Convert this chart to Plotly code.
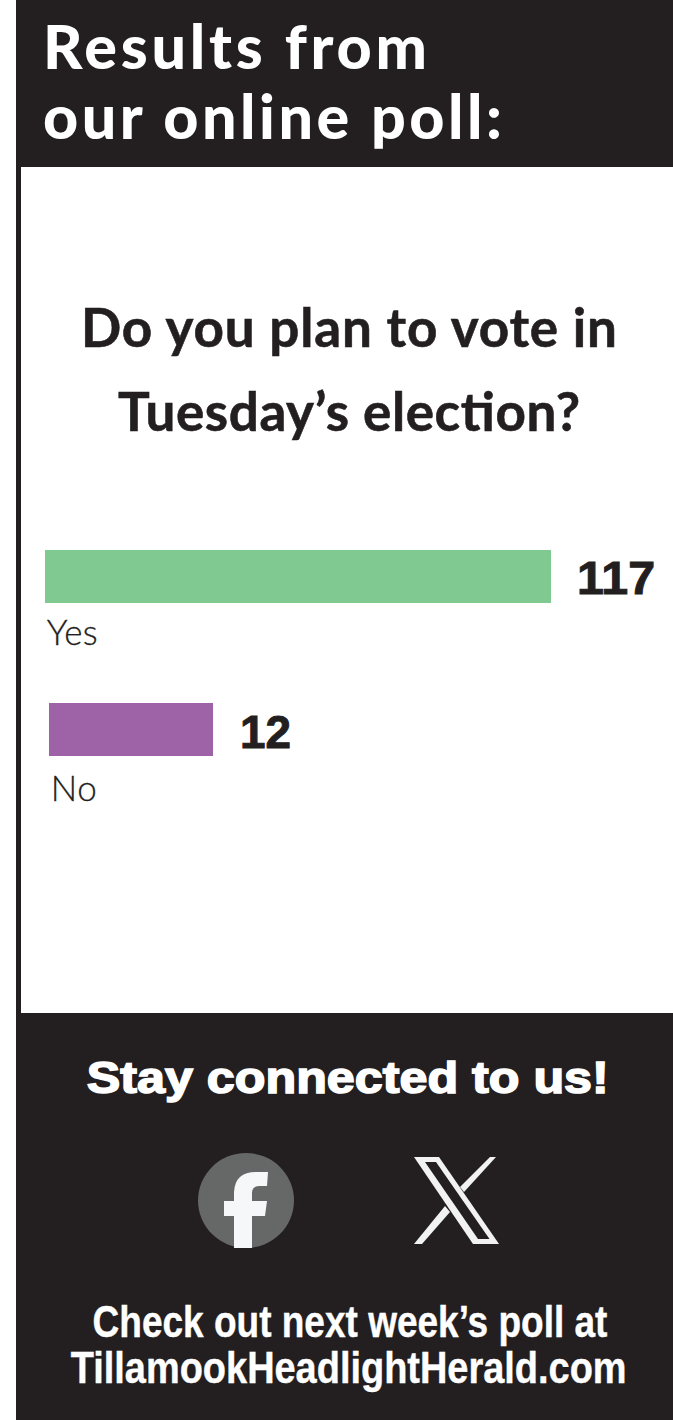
import json
import plotly.graph_objects as go

# Poll results
answers = ["Yes", "No"]
votes = [117, 12]
bar_colors = ["#80c990", "#9e63a6"]
# Each bar rises from its own origin below zero, so the short bar stays legible
bar_origins = [-40.2, -38.96]

heading_lines = ["Results from", "our online poll:"]
question_lines = ["Do you plan to vote in", "Tuesday’s election?"]
connect_text = "Stay connected to us!"
footer_lines = ["Check out next week’s poll at", "TillamookHeadlightHerald.com"]

W, H = 673, 1420
DARK = "#231f20"
INK = "#231f20"


def fx(x):
    return x / W


def fy(y):
    return 1 - y / H


def page_path(points):
    """SVG path in paper coordinates from page pixels."""
    parts = []
    for i, p in enumerate(points):
        if p[0] == "Q":
            parts.append(f"Q{fx(p[1])},{fy(p[2])} {fx(p[3])},{fy(p[4])}")
        else:
            parts.append(("M" if i == 0 else "L") + f"{fx(p[0])},{fy(p[1])}")
    return " ".join(parts) + " Z"


def rect(x0, y0, x1, y1, color):
    return dict(type="rect", xref="paper", yref="paper", x0=fx(x0), x1=fx(x1),
                y0=fy(y1), y1=fy(y0), fillcolor=color, line_width=0, layer="below")


def poly(points, color):
    return dict(type="path", xref="paper", yref="paper", path=page_path(points),
                fillcolor=color, line_width=0, layer="above")


def page_text(x, y, text, family, size, color, weight=400, anchor="left"):
    return dict(xref="paper", yref="paper", x=fx(x), y=fy(y), text=text, showarrow=False,
                xanchor=anchor, yanchor="middle", align=anchor,
                font=dict(family=family, size=size, color=color, weight=weight))


shapes = [
    rect(16, 0, W, H, DARK),
    rect(21, 167, W, 1013, "#ffffff"),
    # Facebook badge
    dict(type="circle", xref="paper", yref="paper", x0=fx(198), x1=fx(294),
         y0=fy(1248), y1=fy(1153), fillcolor="#666767", line_width=0, layer="above"),
    poly([(234, 1248), (234, 1216), (224, 1216), (224, 1201), (234, 1201), (234, 1192),
          ("Q", 235, 1172, 256, 1172), (268, 1172), (267, 1186), (259, 1186),
          ("Q", 252, 1186, 252, 1193), (252, 1201), (267, 1201), (265, 1216), (252, 1216),
          (252, 1248)], "#f6f7f8"),
    # X logo: outlined diagonal and two thin strokes
    poly([(414, 1157), (439, 1157), (499, 1244), (473, 1244)], "#f2f2f2"),
    poly([(425, 1162), (436, 1162), (489.5, 1239), (478, 1239)], DARK),
    poly([(490, 1157), (496, 1157), (464, 1192), (460, 1187)], "#f2f2f2"),
    poly([(445, 1206), (450, 1212), (422, 1244), (414, 1244)], "#f2f2f2"),
]

annotations = [
    page_text(41, 46, heading_lines[0], "Lato", 61, "#ffffff", 900),
    page_text(41, 115, heading_lines[1], "Lato", 61, "#ffffff", 900),
    page_text(349, 326, question_lines[0], "Lato", 53, INK, 700, "center"),
    page_text(349, 410, question_lines[1], "Lato", 53, INK, 700, "center"),
    page_text(348, 1077, connect_text, "Liberation Sans", 45, "#ffffff", 700, "center"),
    page_text(349.5, 1321, footer_lines[0], "Liberation Sans", 45, "#ffffff", 700, "center"),
    page_text(348.5, 1367, footer_lines[1], "Liberation Sans", 45, "#ffffff", 700, "center"),
]

# Value and answer labels follow the bars through the data axes
VALUE_NUDGE = {"Yes": (26, -1), "No": (25, -2)}
ANSWER_NUDGE = {"Yes": (0, -54), "No": (0, -57)}
for answer, value, origin in zip(answers, votes, bar_origins):
    dx, dy = VALUE_NUDGE[answer]
    annotations.append(dict(xref="x", yref="y", x=value, y=answer, text=str(value),
                            showarrow=False, xanchor="left", yanchor="middle", xshift=dx, yshift=dy,
                            font=dict(family="Liberation Sans", size=46, color=INK, weight=700)))
    dx, dy = ANSWER_NUDGE[answer]
    annotations.append(dict(xref="x", yref="y", x=origin, y=answer, text=answer,
                            showarrow=False, xanchor="left", yanchor="middle", xshift=dx, yshift=dy,
                            font=dict(family="Lato", size=35, color=INK, weight=300)))

# Width each text line is set to, how it gets there, and extra stroke for the heavy faces
TEXT_FIT = {
    heading_lines[0]: (384, "spacing", 0),
    heading_lines[1]: (459, "spacing", 0),
    question_lines[0]: (536, "spacing", 0.6),
    question_lines[1]: (462, "spacing", 0.6),
    connect_text: (522, "scale", 1.6),
    footer_lines[0]: (515, "scale", 0.4),
    footer_lines[1]: (556, "scale", 0.4),
    "117": (78, "scale", 1.0),
    "12": (51, "scale", 1.0),
    "Yes": (51, "spacing", 0.3),
    "No": (46, "spacing", 0.3),
}
FIT_SCRIPT = """
var fit = %s;
document.querySelectorAll('.annotation-text').forEach(function (el) {
  var spec = fit[el.textContent];
  if (!spec) { return; }
  if (spec[1] === 'scale') {
    // Squeeze or widen the glyphs about the text's own anchor point
    var ax = parseFloat(el.getAttribute('x')) || 0;
    var ratio = spec[0] / el.getComputedTextLength();
    el.setAttribute('transform',
      'translate(' + ax + ',0) scale(' + ratio + ',1) translate(' + (-ax) + ',0)');
  } else {
    el.setAttribute('textLength', spec[0]);
    el.setAttribute('lengthAdjust', spec[1]);
  }
  if (spec[2]) {
    el.style.stroke = el.style.fill;
    el.style.strokeWidth = spec[2] + 'px';
  }
});
""" % json.dumps(TEXT_FIT, ensure_ascii=False)

# The bar length is value minus origin, so the value itself sets where each bar ends
fig = go.Figure(go.Bar(
    x=[v - o for v, o in zip(votes, bar_origins)], y=answers, base=bar_origins, orientation="h",
    marker=dict(color=bar_colors, line_width=0), width=53 / 153,
    hoverinfo="skip",
))

fig.update_layout(
    width=W, height=H, margin=dict(l=0, r=0, t=0, b=0), autosize=False,
    paper_bgcolor="#ffffff", plot_bgcolor="rgba(0,0,0,0)", showlegend=False,
    shapes=shapes, annotations=annotations,
    xaxis=dict(range=[-54.18, 154.9], visible=False, domain=[0, 1], fixedrange=True),
    yaxis=dict(type="category", categoryorder="array", categoryarray=answers,
               range=[(H - 576.5) / 153, -576.5 / 153], visible=False, domain=[0, 1], fixedrange=True),
)
fig.write_html("out.html", config=dict(displayModeBar=False), post_script=FIT_SCRIPT)
